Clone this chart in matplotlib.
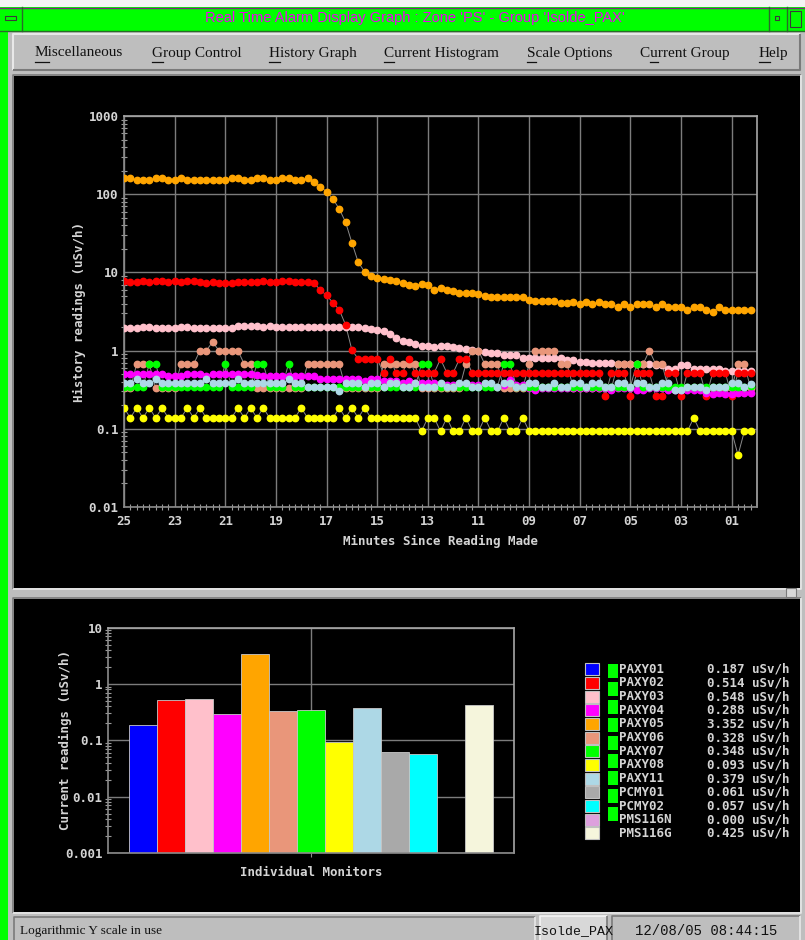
import numpy as np
import matplotlib
matplotlib.use('Agg')
import matplotlib.pyplot as plt
from matplotlib.patches import Rectangle
from matplotlib.ticker import FixedLocator, LogLocator, NullFormatter

# ---- data read off the alarm display ----
# history: one reading every 15 s over the last 25 minutes
minutes = 25 - 0.25 * np.arange(100)

paxy02 = [
    7.7, 7.45, 7.45, 7.7, 7.45, 7.7, 7.7, 7.45, 7.7, 7.45,
    7.7, 7.7, 7.45, 7.3, 7.45, 7.3, 7.3, 7.3, 7.45, 7.45,
    7.45, 7.45, 7.7, 7.45, 7.45, 7.7, 7.7, 7.45, 7.45, 7.45,
    7.3, 6.0, 5.07, 4.12, 3.33, 2.14, 1.02, 0.78, 0.78, 0.78,
    0.78, 0.52, 0.78, 0.52, 0.52, 0.78, 0.52, 0.52, 0.52, 0.52,
    0.78, 0.52, 0.52, 0.78, 0.78, 0.52, 0.52, 0.52, 0.52, 0.52,
    0.52, 0.52, 0.52, 0.52, 0.52, 0.52, 0.52, 0.52, 0.52, 0.52,
    0.52, 0.52, 0.52, 0.52, 0.52, 0.52, 0.26, 0.52, 0.52, 0.52,
    0.26, 0.52, 0.52, 0.52, 0.26, 0.26, 0.52, 0.52, 0.26, 0.52,
    0.52, 0.52, 0.26, 0.52, 0.52, 0.52, 0.26, 0.52, 0.52, 0.514,
]
paxy03 = [
    1.97, 1.97, 1.97, 2.0, 2.0, 1.97, 1.97, 1.97, 1.97, 2.0,
    2.0, 1.97, 1.97, 1.97, 1.97, 1.97, 1.97, 1.97, 2.08, 2.08,
    2.08, 2.08, 2.0, 2.08, 2.03, 2.03, 2.03, 2.03, 2.03, 2.03,
    2.03, 2.03, 2.03, 2.03, 2.03, 2.03, 2.03, 2.03, 1.94, 1.88,
    1.85, 1.8, 1.64, 1.44, 1.34, 1.27, 1.22, 1.16, 1.16, 1.1,
    1.16, 1.16, 1.1, 1.08, 1.05, 1.02, 0.99, 0.95, 0.93, 0.93,
    0.88, 0.88, 0.88, 0.8, 0.8, 0.8, 0.8, 0.8, 0.8, 0.8,
    0.76, 0.76, 0.72, 0.72, 0.69, 0.69, 0.69, 0.69, 0.67, 0.67,
    0.67, 0.67, 0.67, 0.67, 0.65, 0.65, 0.58, 0.58, 0.65, 0.65,
    0.58, 0.58, 0.58, 0.58, 0.58, 0.55, 0.55, 0.55, 0.55, 0.548,
]
paxy04 = [
    0.5, 0.5, 0.5, 0.5, 0.5, 0.5, 0.5, 0.47, 0.47, 0.47,
    0.5, 0.5, 0.5, 0.47, 0.5, 0.5, 0.5, 0.5, 0.5, 0.5,
    0.5, 0.49, 0.47, 0.47, 0.47, 0.47, 0.47, 0.47, 0.47, 0.47,
    0.47, 0.43, 0.43, 0.43, 0.43, 0.43, 0.43, 0.43, 0.41, 0.43,
    0.43, 0.41, 0.41, 0.41, 0.38, 0.41, 0.38, 0.38, 0.38, 0.38,
    0.36, 0.36, 0.36, 0.36, 0.36, 0.36, 0.36, 0.36, 0.36, 0.34,
    0.36, 0.42, 0.36, 0.36, 0.33, 0.31, 0.33, 0.33, 0.33, 0.33,
    0.33, 0.33, 0.33, 0.33, 0.33, 0.33, 0.33, 0.31, 0.33, 0.33,
    0.33, 0.31, 0.31, 0.33, 0.33, 0.33, 0.31, 0.31, 0.31, 0.31,
    0.31, 0.31, 0.29, 0.28, 0.29, 0.28, 0.28, 0.29, 0.29, 0.288,
]
paxy05 = [
    160, 160, 152, 152, 152, 160, 160, 152, 152, 160,
    152, 152, 152, 152, 152, 152, 152, 160, 160, 152,
    152, 160, 160, 152, 152, 160, 160, 152, 152, 160,
    145, 125, 108, 87, 65, 44, 24, 13.5, 10.2, 8.9,
    8.4, 8.2, 7.9, 7.7, 7.4, 6.95, 6.75, 7.1, 6.9, 6.0,
    6.24, 6.0, 5.77, 5.44, 5.44, 5.44, 5.28, 4.92, 4.78, 4.78,
    4.78, 4.83, 4.83, 4.83, 4.5, 4.25, 4.25, 4.3, 4.3, 4.12,
    4.12, 4.17, 3.89, 4.17, 3.89, 4.17, 3.89, 3.89, 3.63, 3.89,
    3.63, 3.89, 3.89, 3.89, 3.63, 3.89, 3.63, 3.63, 3.63, 3.33,
    3.63, 3.63, 3.33, 3.1, 3.63, 3.33, 3.33, 3.33, 3.33, 3.352,
]
paxy06 = [
    0.33, 0.33, 0.67, 0.67, 0.67, 0.33, 0.33, 0.33, 0.33, 0.67,
    0.67, 0.67, 1.0, 1.0, 1.29, 1.0, 1.0, 1.0, 1.0, 0.67,
    0.67, 0.33, 0.33, 0.33, 0.33, 0.33, 0.33, 0.33, 0.33, 0.67,
    0.67, 0.67, 0.67, 0.67, 0.67, 0.33, 0.33, 0.33, 0.33, 0.33,
    0.33, 0.67, 0.67, 0.67, 0.67, 0.67, 0.67, 0.33, 0.33, 0.33,
    0.33, 0.33, 0.33, 0.33, 0.67, 1.0, 1.0, 0.67, 0.67, 0.67,
    0.33, 0.33, 0.33, 0.33, 0.67, 1.0, 1.0, 1.0, 1.0, 0.67,
    0.67, 0.33, 0.33, 0.33, 0.33, 0.33, 0.33, 0.33, 0.67, 0.67,
    0.67, 0.67, 0.67, 1.0, 0.67, 0.67, 0.33, 0.33, 0.33, 0.33,
    0.33, 0.33, 0.33, 0.33, 0.33, 0.33, 0.33, 0.67, 0.67, 0.328,
]
paxy07 = [
    0.345, 0.345, 0.345, 0.345, 0.68, 0.68, 0.345, 0.345, 0.345, 0.345,
    0.345, 0.345, 0.345, 0.345, 0.345, 0.345, 0.68, 0.345, 0.345, 0.345,
    0.345, 0.68, 0.68, 0.345, 0.345, 0.345, 0.68, 0.345, 0.345, 0.345,
    0.345, 0.345, 0.345, 0.345, 0.345, 0.345, 0.345, 0.345, 0.345, 0.345,
    0.345, 0.345, 0.345, 0.345, 0.345, 0.345, 0.345, 0.68, 0.68, 0.345,
    0.345, 0.345, 0.345, 0.345, 0.345, 0.345, 0.345, 0.345, 0.345, 0.345,
    0.68, 0.68, 0.345, 0.345, 0.345, 0.345, 0.345, 0.345, 0.345, 0.345,
    0.345, 0.345, 0.345, 0.345, 0.345, 0.345, 0.345, 0.345, 0.345, 0.345,
    0.345, 0.68, 0.345, 0.345, 0.345, 0.345, 0.345, 0.345, 0.345, 0.345,
    0.345, 0.345, 0.345, 0.345, 0.345, 0.345, 0.345, 0.345, 0.345, 0.348,
]
paxy08 = [
    0.185, 0.138, 0.185, 0.138, 0.185, 0.138, 0.185, 0.138, 0.138, 0.138,
    0.185, 0.138, 0.185, 0.138, 0.138, 0.138, 0.138, 0.138, 0.185, 0.138,
    0.185, 0.138, 0.185, 0.138, 0.138, 0.138, 0.138, 0.138, 0.185, 0.138,
    0.138, 0.138, 0.138, 0.138, 0.185, 0.138, 0.185, 0.138, 0.185, 0.138,
    0.138, 0.138, 0.138, 0.138, 0.138, 0.138, 0.138, 0.093, 0.138, 0.138,
    0.093, 0.138, 0.093, 0.093, 0.138, 0.093, 0.093, 0.138, 0.093, 0.093,
    0.138, 0.093, 0.093, 0.138, 0.093, 0.093, 0.093, 0.093, 0.093, 0.093,
    0.093, 0.093, 0.093, 0.093, 0.093, 0.093, 0.093, 0.093, 0.093, 0.093,
    0.093, 0.093, 0.093, 0.093, 0.093, 0.093, 0.093, 0.093, 0.093, 0.093,
    0.138, 0.093, 0.093, 0.093, 0.093, 0.093, 0.093, 0.046, 0.093, 0.093,
]
paxy11 = [
    0.38, 0.38, 0.43, 0.38, 0.38, 0.43, 0.38, 0.38, 0.38, 0.38,
    0.38, 0.38, 0.38, 0.43, 0.38, 0.38, 0.38, 0.38, 0.43, 0.38,
    0.38, 0.38, 0.38, 0.38, 0.38, 0.38, 0.43, 0.38, 0.38, 0.34,
    0.34, 0.34, 0.34, 0.34, 0.30, 0.38, 0.38, 0.38, 0.34, 0.38,
    0.38, 0.34, 0.38, 0.38, 0.34, 0.34, 0.38, 0.34, 0.34, 0.34,
    0.38, 0.34, 0.34, 0.38, 0.38, 0.34, 0.34, 0.38, 0.38, 0.34,
    0.38, 0.38, 0.34, 0.34, 0.38, 0.38, 0.34, 0.34, 0.38, 0.34,
    0.34, 0.38, 0.38, 0.34, 0.38, 0.38, 0.34, 0.34, 0.38, 0.38,
    0.34, 0.38, 0.38, 0.34, 0.34, 0.38, 0.38, 0.31, 0.31, 0.34,
    0.34, 0.34, 0.31, 0.34, 0.34, 0.34, 0.38, 0.38, 0.34, 0.379,
]

# drawing order of the history traces (last one ends up on top)
history = [
    (paxy03, '#ffc0cb'),
    (paxy05, '#ffa500'),
    (paxy06, '#e9967a'),
    (paxy02, '#ff0000'),
    (paxy04, '#ff00ff'),
    (paxy07, '#00ff00'),
    (paxy08, '#ffff00'),
    (paxy11, '#add8e6'),
]

# current readings histogram
monitors = ['PAXY01', 'PAXY02', 'PAXY03', 'PAXY04', 'PAXY05', 'PAXY06', 'PAXY07',
            'PAXY08', 'PAXY11', 'PCMY01', 'PCMY02', 'PMS116N', 'PMS116G']
current = [0.187, 0.514, 0.548, 0.288, 3.352, 0.328, 0.348, 0.093, 0.379, 0.061, 0.057, 0.000, 0.425]
mon_colors = ['#0000ff', '#ff0000', '#ffc0cb', '#ff00ff', '#ffa500', '#e9967a', '#00ff00',
              '#ffff00', '#add8e6', '#a9a9a9', '#00ffff', '#dda0dd', '#f5f5dc']

hist_xticks = [25, 23, 21, 19, 17, 15, 13, 11, 9, 7, 5, 3, 1]
hist_xlabels = ['25', '23', '21', '19', '17', '15', '13', '11', '09', '07', '05', '03', '01']
hist_yticks = [0.01, 0.1, 1, 10, 100, 1000]
hist_ylabels = ['0.01', '0.1', '1', '10', '100', '1000']
bar_yticks = [0.001, 0.01, 0.1, 1, 10]
bar_ylabels = ['0.001', '0.01', '0.1', '1', '10']

menu_items = ['Miscellaneous', 'Group Control', 'History Graph', 'Current Histogram',
              'Scale Options', 'Current Group', 'Help']
menu_x = [35, 152, 269, 384, 527, 640, 759]
menu_key = [0, 0, 0, 0, 0, 1, 0]

# ---- figure / window chrome ----
W, H = 805, 940
MONO = 'DejaVu Sans Mono'
TXT = '#d4d4d4'
GRID = '#7c7c7c'

fig = plt.figure(figsize=(W / 100, H / 100), dpi=100, facecolor='#bebebe')


def frac(x0, y0, x1, y1):
    return [x0 / W, 1 - y1 / H, (x1 - x0) / W, (y1 - y0) / H]


bg = fig.add_axes([0, 0, 1, 1], zorder=0)
bg.set_xlim(0, W)
bg.set_ylim(H, 0)
bg.axis('off')


def box(x0, y0, x1, y1, fc, ec='none', lw=0, z=1):
    bg.add_patch(Rectangle((x0, y0), x1 - x0, y1 - y0, facecolor=fc,
                           edgecolor=ec, lw=lw, zorder=z))


def bevel(x0, y0, x1, y1, light, dark, lw=1.2):
    bg.plot([x0, x0, x1], [y1, y0, y0], color=light, lw=lw, zorder=3, solid_capstyle='butt')
    bg.plot([x0, x1, x1], [y1, y1, y0], color=dark, lw=lw, zorder=3, solid_capstyle='butt')


# outer frame + title bar
box(0, 0, W, 7, '#f4f4f4')
box(0, 7, W, 31, '#00ff00')
box(0, 7, 8, H, '#00ff00')
bg.plot([0, W], [7.5, 7.5], color='#7a2a7a', lw=1, zorder=3)
bg.plot([0, W], [30.5, 30.5], color='#2a6a2a', lw=1, zorder=3)
bg.plot([21.5, 21.5], [7, 31], color='#2a6a2a', lw=1, zorder=3)
bg.plot([768.5, 768.5], [7, 31], color='#2a6a2a', lw=1, zorder=3)
bg.plot([786.5, 786.5], [7, 31], color='#2a6a2a', lw=1, zorder=3)
box(5, 16, 16, 20, 'none', ec='#3a3a3a', lw=0.8, z=4)
box(775, 16, 779, 20, 'none', ec='#3a3a3a', lw=0.8, z=4)
box(790, 11, 801, 27, 'none', ec='#3a3a3a', lw=0.8, z=4)
bg.text(415, 18, "Real Time Alarm Display Graph : Zone 'PS' - Group 'Isolde_PAX'",
        color='#f000f0', fontsize=10.5, family='Liberation Sans', ha='center', va='center', zorder=5)

# menu bar
box(9, 31, W, H, '#bebebe')
bevel(13, 34, 800, 70, '#e8e8e8', '#7a7a7a', lw=1.5)
renderer = fig.canvas.get_renderer()
for label, x, k in zip(menu_items, menu_x, menu_key):
    t = bg.text(x, 53, label, fontsize=11, family='Liberation Serif', color='#111111',
                ha='left', va='center', zorder=5)
    ext = t.get_window_extent(renderer)
    pre = bg.text(x, 53, label[:k], fontsize=11, family='Liberation Serif', ha='left', va='center')
    ch = bg.text(x, 53, label[:k + 1], fontsize=11, family='Liberation Serif', ha='left', va='center')
    x_a = x + (pre.get_window_extent(renderer).width if k else 0)
    x_b = x + ch.get_window_extent(renderer).width
    pre.remove()
    ch.remove()
    y_u = H - ext.y0 + 2
    bg.plot([x_a, x_b], [y_u, y_u], color='#111111', lw=0.9, zorder=5)

# black panels and the sash between them
box(14, 76, 800, 588, '#000000', z=2)
bevel(13, 75, 801, 589, '#7a7a7a', '#e8e8e8', lw=1.2)
box(786, 588, 796, 597, '#d8d8d8', ec='#7a7a7a', lw=0.8, z=4)
box(14, 599, 800, 912, '#000000', z=2)
bevel(13, 598, 801, 913, '#7a7a7a', '#e8e8e8', lw=1.2)

# status bar
bevel(14, 917, 535, 945, '#7a7a7a', '#e8e8e8', lw=1.2)
bg.text(20, 931, 'Logarithmic Y scale in use', fontsize=9.5, family='Liberation Serif',
        color='#111111', ha='left', va='center', zorder=5)
box(540, 916, 607, 945, '#d8d8d8', z=2)
bevel(540, 916, 607, 945, '#f4f4f4', '#7a7a7a', lw=1.2)
bg.text(573.5, 931, 'Isolde_PAX', fontsize=9.5, family='Liberation Mono',
        color='#111111', ha='center', va='center', zorder=5)
bevel(612, 916, 800, 945, '#7a7a7a', '#e8e8e8', lw=1.2)
bg.text(706, 931, '12/08/05 08:44:15', fontsize=10, family='Liberation Mono',
        color='#111111', ha='center', va='center', zorder=5)


def style_axes(ax):
    ax.set_facecolor('#000000')
    for side in ['left', 'bottom']:
        ax.spines[side].set_color('#8c8c8c')
        ax.spines[side].set_linewidth(1.2)
    for side in ['top', 'right']:
        ax.spines[side].set_color('#a8a8a8')
        ax.spines[side].set_linewidth(1.2)
    ax.tick_params(which='major', length=0, labelcolor=TXT, labelsize=9)
    ax.tick_params(which='minor', direction='inout', length=4, width=0.8, color='#9a9a9a')


# ---- history graph ----
ax1 = fig.add_axes(frac(124, 116, 757, 507), zorder=1)
style_axes(ax1)
ax1.set_yscale('log')
ax1.set_ylim(0.01, 1000)
ax1.set_xlim(25, 0)
ax1.set_xticks(hist_xticks)
ax1.set_xticklabels(hist_xlabels, family=MONO, fontweight='bold')
ax1.set_yticks(hist_yticks)
ax1.set_yticklabels(hist_ylabels, family=MONO, fontweight='bold')
ax1.xaxis.set_minor_locator(FixedLocator(minutes))
ax1.yaxis.set_minor_locator(LogLocator(base=10, subs=np.arange(2, 10)))
ax1.yaxis.set_minor_formatter(NullFormatter())
ax1.tick_params(axis='x', which='major', pad=6)
ax1.tick_params(axis='y', which='major', pad=4)
ax1.grid(True, which='major', color=GRID, lw=1)
ax1.set_axisbelow(True)

for vals, col in history:
    ax1.plot(minutes, vals, color='#8a8a8a', lw=0.7, zorder=2)
for vals, col in history:
    ax1.plot(minutes, vals, 'o', color=col, mec=col, ms=4.6, zorder=3)

bg.text(79, 312, 'History readings (uSv/h)', rotation=90, color=TXT, family=MONO,
        fontweight='bold', fontsize=9, ha='center', va='center')
bg.text(440, 541, 'Minutes Since Reading Made', color=TXT, family=MONO,
        fontweight='bold', fontsize=9, ha='center', va='center')

# ---- current histogram ----
ax2 = fig.add_axes(frac(108.3, 627.7, 514, 853), zorder=1)
style_axes(ax2)
ax2.set_yscale('log')
xpos = np.arange(len(current))
ax2.bar(xpos, current, width=1.0, color=mon_colors, edgecolor='#c8c8c8', lw=0.6, zorder=2)
ax2.set_ylim(0.001, 10)
ax2.set_xlim(-1.25, 13.24)
ax2.set_xticks([6.0])
ax2.set_xticklabels([''])
ax2.tick_params(axis='x', which='major', length=3, color='#8c8c8c', direction='out')
ax2.set_yticks(bar_yticks)
ax2.set_yticklabels(bar_ylabels, family=MONO, fontweight='bold')
ax2.yaxis.set_minor_locator(LogLocator(base=10, subs=np.arange(2, 10)))
ax2.yaxis.set_minor_formatter(NullFormatter())
ax2.tick_params(axis='y', which='major', pad=4)
ax2.grid(True, which='major', color=GRID, lw=1)
ax2.set_axisbelow(True)

bg.text(65, 740, 'Current readings (uSv/h)', rotation=90, color=TXT, family=MONO,
        fontweight='bold', fontsize=9, ha='center', va='center')
bg.text(311, 873, 'Individual Monitors', color=TXT, family=MONO,
        fontweight='bold', fontsize=9, ha='center', va='center')

# legend with current values
row0, drow = 669.3, 13.67
for k, (name, val, col) in enumerate(zip(monitors, current, mon_colors)):
    yc = row0 + k * drow
    box(585, yc - 6, 599, yc + 6, col, ec='#c0c0c0', lw=0.8, z=4)
    bg.text(619, yc, name, color=TXT, family=MONO, fontweight='bold', fontsize=9,
            ha='left', va='center', zorder=5)
    bg.text(707, yc, '%.3f uSv/h' % val, color=TXT, family=MONO, fontweight='bold',
            fontsize=9, ha='left', va='center', zorder=5)
# alarm status indicators
for k in range(9):
    y0 = 664 + 17.9 * k
    box(608, y0, 618, y0 + 14, '#00ff00', z=4)

fig.savefig('out.png', dpi=100, facecolor=fig.get_facecolor())
